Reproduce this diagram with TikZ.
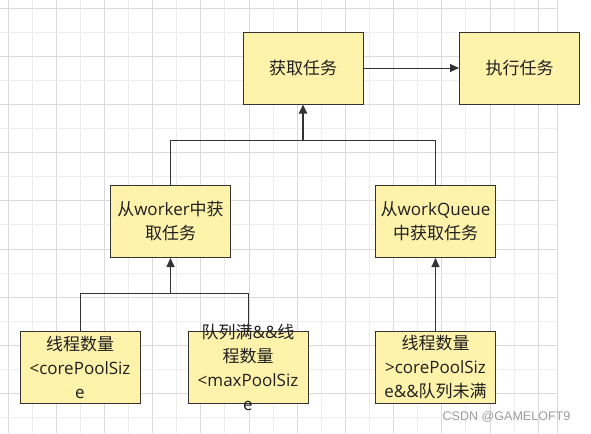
\documentclass[tikz,border=0pt]{standalone}
\usepackage{fontspec}
\setmainfont{Open Sans}
\newfontfamily\cjk{Noto Sans CJK SC}
\newfontfamily\wmfont{Liberation Sans}
\usetikzlibrary{arrows.meta}
\definecolor{boxfill}{HTML}{FFF2AB}
\definecolor{edgec}{HTML}{333333}
\definecolor{textc}{HTML}{1F1F1F}
\definecolor{gmajor}{HTML}{DADADA}
\definecolor{gminor}{HTML}{EDEDED}
\definecolor{wmc}{HTML}{9E9E9E}
\begin{document}
\begin{tikzpicture}[x=0.75pt,y=-0.75pt,
  box/.style={draw=edgec,fill=boxfill,line width=0.75pt,minimum width=90pt,minimum height=54pt,inner sep=0pt},
  txt/.style={align=center,inner sep=0pt,text=textc,font=\fontsize{12.75pt}{18pt}\selectfont},
  conn/.style={draw=edgec,line width=0.75pt},
  arr/.style={conn,-{Triangle[length=6.75pt,width=6pt]}}]
\useasboundingbox (0,0) rectangle (591,433);
\fill[white] (0,0) rectangle (591,433);
% background grid
\foreach \i in {0,...,22}{
  \pgfmathsetmacro\gx{8+24.1*\i}
  \ifodd\i\def\gc{gminor}\else\def\gc{gmajor}\fi
  \draw[\gc,line width=0.75pt] (\gx,0) -- (\gx,433);
}
\draw[gmajor,line width=0.75pt] (557,0) -- (557,433);
\foreach \j in {0,...,17}{
  \pgfmathsetmacro\gy{8+24.1*\j}
  \ifodd\j\def\gc{gminor}\else\def\gc{gmajor}\fi
  \draw[\gc,line width=0.75pt] (0,\gy) -- (557,\gy);
}
% boxes
\node[box] (b1) at (303,68) {};
\node[box] (b2) at (519.5,68) {};
\node[box] (b3) at (170.5,221.5) {};
\node[box] (b4) at (435.5,221.5) {};
\node[box] (b5) at (80,367.5) {};
\node[box] (b6) at (248,367.5) {};
\node[box] (b7) at (435.5,367.5) {};
% texts
\node[txt] (t1) at (b1.center) {{\cjk 获取任务}};
\node[txt] (t2) at (b2.center) {{\cjk 执行任务}};
\node[txt] (t3) at (b3.center) {{\cjk 从}worker{\cjk 中获}\\{\cjk 取任务}};
\node[txt] (t4) at (b4.center) {{\cjk 从}workQueue\\{\cjk 中获取任务}};
\node[txt] (t5) at (b5.center) {{\cjk 线程数量}\\<corePoolSiz\\e};
\node[txt] (t6) at (b6.center) {{\cjk 队列满}\&\&{\cjk 线}\\{\cjk 程数量}\\<maxPoolSiz\\e};
\node[txt] (t7) at (b7.center) {{\cjk 线程数量}\\>corePoolSiz\\e\&\&{\cjk 队列未满}};
% connectors
\coordinate (j1) at (303,140);
\coordinate (j2) at (170.5,293);
\draw[arr] (b1.east) -- (b2.west);
\draw[conn] (b3.north) |- (j1);
\draw[conn] (b4.north) |- (j1);
\draw[arr,line width=1.5pt] (j1) -- (b1.south);
\draw[conn] (b5.north) |- (j2);
\draw[conn] (b6.north) |- (j2);
\draw[arr,line width=1.1pt] (j2) -- (b3.south);
\draw[arr] (b7.north) -- (b4.south);
% watermark
\node[text=wmc,font=\wmfont\fontsize{9.4pt}{11pt}\selectfont,inner sep=0pt] (wm) at (506.5,417) {CSDN @GAMELOFT9};
\end{tikzpicture}
\end{document}
